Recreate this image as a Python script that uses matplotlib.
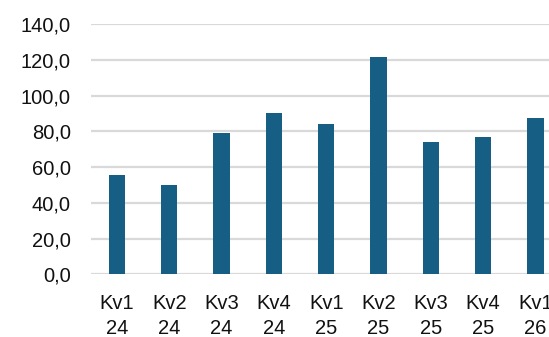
import matplotlib
matplotlib.use("Agg")
import matplotlib.pyplot as plt
from matplotlib.ticker import FuncFormatter, MultipleLocator

categories = ["Kv1\n24", "Kv2\n24", "Kv3\n24", "Kv4\n24", "Kv1\n25",
              "Kv2\n25", "Kv3\n25", "Kv4\n25", "Kv1\n26"]
values = [55.5, 49.8, 78.9, 90.0, 83.9, 121.5, 73.8, 76.8, 87.6]

plt.rcParams["font.family"] = ["Liberation Sans", "DejaVu Sans"]

fig = plt.figure(figsize=(5.49, 3.37), dpi=100)
ax = fig.add_axes([90.85 / 549, 1 - 274.3 / 337, 470.7 / 549, 250.3 / 337])

x = range(len(categories))
ax.bar(x, values, width=0.31, color="#165E83", zorder=3)

ax.set_xlim(-0.5, len(categories) - 0.5)
ax.set_ylim(0, 140)
ax.yaxis.set_major_locator(MultipleLocator(20))
ax.yaxis.set_major_formatter(FuncFormatter(lambda v, _: f"{v:.1f}".replace(".", ",")))
ax.grid(axis="y", color="#d9d9d9", linewidth=1.6, zorder=0)
ax.set_axisbelow(True)
for s in ax.spines.values():
    s.set_visible(False)

ax.set_xticks(list(x))
ax.set_xticklabels(categories, fontsize=14.5, linespacing=1.4)
ax.tick_params(axis="x", length=0, pad=14)
ax.tick_params(axis="y", length=0, pad=14.5, labelsize=14.5)
for lbl in ax.get_yticklabels():
    lbl.set_color("#111111")
for lbl in ax.get_xticklabels():
    lbl.set_color("#111111")

fig.savefig("out.png", dpi=100)
